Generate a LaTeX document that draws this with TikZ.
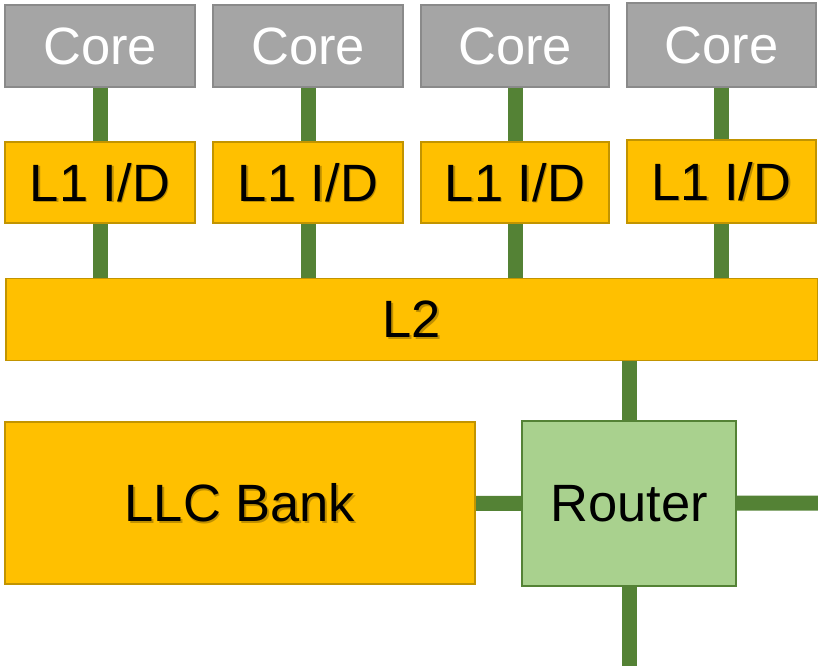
\documentclass[tikz,border=0pt]{standalone}
\usepackage{fontspec}
\setmainfont{Liberation Sans}
\usetikzlibrary{backgrounds}
\definecolor{coregray}{HTML}{A5A5A5}
\definecolor{coreedge}{HTML}{8A8A8A}
\definecolor{cacheorange}{HTML}{FFC000}
\definecolor{cacheedge}{HTML}{C29400}
\definecolor{linkgreen}{HTML}{548235}
\definecolor{routerfill}{HTML}{A9D18E}
\tikzset{
  labelfont/.style={font=\fontsize{52.5}{52.5}\selectfont},
  box/.style={rectangle, inner sep=0pt, line width=1.8pt, labelfont},
  corebox/.style={box, fill=coregray, draw=coreedge, text=white},
  cachebox/.style={box, fill=cacheorange, draw=cacheedge, text=black},
  routerbox/.style={box, fill=routerfill, draw=linkgreen, text=black},
  link/.style={draw=linkgreen, line width=15pt},
  shadowtext/.style={labelfont, text=black, opacity=0.25}
}
\newcommand{\shadowlabel}[2]{%
  \node[shadowtext] at ([xshift=1.5pt,yshift=-1.5pt]#1) {#2};}
\begin{document}
\begin{tikzpicture}[x=1pt, y=-1pt]
  \useasboundingbox (0,0) rectangle (818,668);

  % cores
  \node[corebox, minimum width=190pt, minimum height=82pt] (core1) at (100,46) {Core};
  \node[corebox, minimum width=190pt, minimum height=82pt] (core2) at (308,46) {Core};
  \node[corebox, minimum width=188pt, minimum height=82pt] (core3) at (515,46) {Core};
  \node[corebox, minimum width=189pt, minimum height=84pt] (core4) at (721.5,45) {Core};

  % private L1 caches
  \node[cachebox, minimum width=190pt, minimum height=81pt] (l1a) at (100,182.5) {};
  \node[cachebox, minimum width=190pt, minimum height=81pt] (l1b) at (308,182.5) {};
  \node[cachebox, minimum width=188pt, minimum height=81pt] (l1c) at (515,182.5) {};
  \node[cachebox, minimum width=189pt, minimum height=83pt] (l1d) at (721.5,181.5) {};

  % shared L2
  \node[cachebox, minimum width=812pt, minimum height=82pt] (l2) at (412,319.5) {};

  % last-level cache bank and router
  \node[cachebox, minimum width=470pt, minimum height=162pt] (llc) at (240,503) {};
  \node[routerbox, minimum width=214pt, minimum height=165pt] (router) at (629,503.5) {Router};

  % labels with a soft drop shadow
  \foreach \n/\t in {l1a/{L1 I/D}, l1b/{L1 I/D}, l1c/{L1 I/D}, l1d/{L1 I/D}, l2/L2, llc/{LLC Bank}}{
    \shadowlabel{\n.center}{\t}
    \node[labelfont] at (\n.center) {\t};
  }

  % links
  \coordinate (east) at (818,503);
  \coordinate (south) at (629,666);
  \begin{scope}[on background layer]
    \draw[link] (core1) -- (l1a);
    \draw[link] (core2) -- (l1b);
    \draw[link] (core3) -- (l1c);
    \draw[link] (core4.south -| l1d) -- (l1d);
    \draw[link] (l1a) -- (l1a |- l2.center);
    \draw[link] (l1b) -- (l1b |- l2.center);
    \draw[link] (l1c) -- (l1c |- l2.center);
    \draw[link] (l1d) -- (l1d |- l2.center);
    \draw[link] (router) -- (router |- l2.center);
    \draw[link] (llc) -- (router);
    \draw[link] (router) -- (east);
    \draw[link] (router) -- (south);
  \end{scope}
\end{tikzpicture}
\end{document}
